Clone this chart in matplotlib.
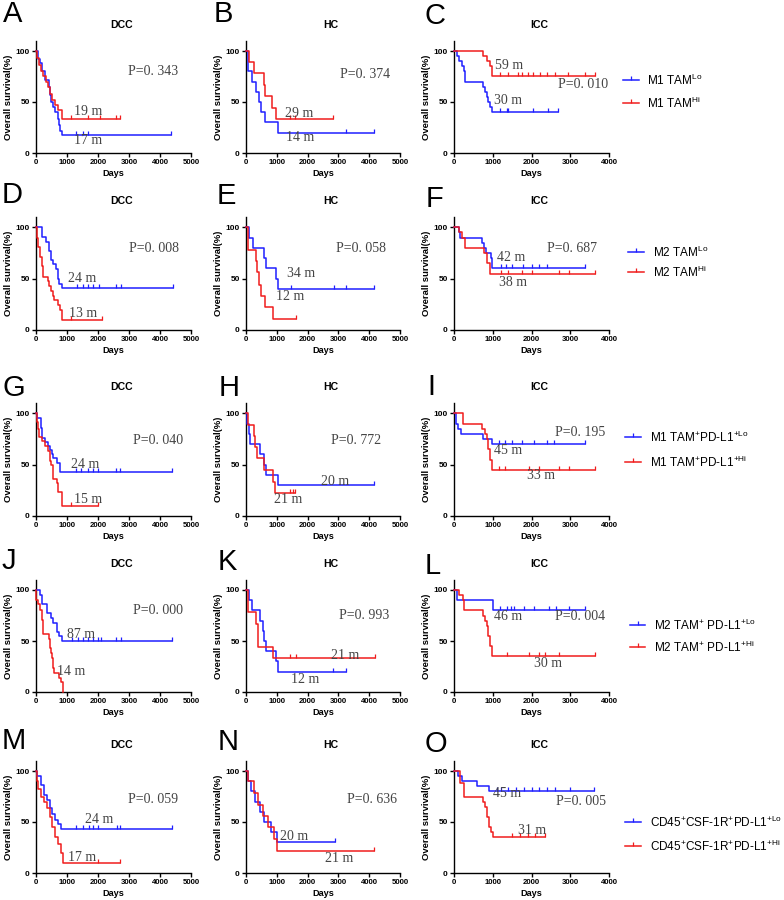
import numpy as np
import matplotlib
matplotlib.use('Agg')
import matplotlib.pyplot as plt
from matplotlib.lines import Line2D

plt.rcParams['font.family'] = ['Liberation Sans', 'DejaVu Sans']
plt.rcParams['mathtext.fontset'] = 'custom'
plt.rcParams['mathtext.rm'] = 'Liberation Sans'

# ---------------- data (days, survival %) ----------------
# Row 1: M1 TAM
A_lo_t = [50, 120, 190, 300, 410, 460, 480, 550, 620, 700, 730, 780, 840]
A_lo_s = [92, 88, 80, 72, 65, 57, 50, 45, 40, 33, 27, 22, 18]
A_lo_c = [1300, 1520, 1670, 4370]
A_hi_t = [40, 110, 170, 240, 320, 400, 450, 520, 600, 700, 850]
A_hi_s = [93, 86, 80, 75, 70, 65, 58, 52, 47, 42, 33]
A_hi_c = [1140, 1670, 2050, 2580, 2720]

B_lo_t = [50, 200, 310, 410, 480, 620, 1050]
B_lo_s = [80, 70, 60, 50, 40, 30, 20]
B_lo_c = [3250, 4150]
B_hi_t = [90, 270, 580, 610, 850, 960]
B_hi_s = [89, 78, 67, 56, 44, 33]
B_hi_c = [1430, 1590, 2840]

C_lo_t = [70, 140, 200, 260, 280, 760, 800, 850, 890, 940, 980]
C_lo_s = [95, 90, 85, 80, 70, 65, 60, 55, 50, 45, 40]
C_lo_c = [1190, 1360, 1400, 2050, 2430, 2690]
C_hi_t = [760, 850, 930, 990]
C_hi_s = [95, 90, 85, 75]
C_hi_c = [1190, 1400, 1660, 1750, 1920, 2050, 2220, 2390, 2610, 2950, 3380, 3640]

# Row 2: M2 TAM
D_lo_t = [190, 320, 430, 480, 540, 645, 700, 750, 840]
D_lo_s = [91, 86, 77, 68, 64, 59, 50, 45, 41]
D_lo_c = [1310, 1500, 1670, 1830, 2040, 2580, 2740, 4410]
D_hi_t = [20, 75, 130, 180, 215, 375, 430, 480, 540, 590, 700, 775, 840]
D_hi_s = [90, 81, 71, 62, 52, 48, 43, 38, 33, 29, 24, 19, 10]
D_hi_c = [1130, 2120]

E_lo_t = [110, 215, 575, 640, 960, 1040]
E_lo_s = [90, 80, 70, 60, 50, 40]
E_lo_c = [1455, 2860, 3235, 4155]
E_hi_t = [50, 80, 325, 370, 430, 480, 610, 880]
E_hi_s = [89, 78, 67, 56, 44, 33, 22, 11]
E_hi_c = [1630]

F_lo_t = [130, 155, 730, 770, 815, 960, 975, 990]
F_lo_s = [95, 90, 85, 80, 75, 70, 65, 60]
F_lo_c = [1200, 1350, 1505, 1770, 2020, 2190, 2410, 3370]
F_hi_t = [130, 215, 275, 770, 860, 930]
F_hi_s = [95, 90, 80, 75, 65, 55]
F_hi_c = [1205, 1385, 1765, 2020, 2710, 2970, 3640]

# Row 3: M1 TAM+PD-L1+
G_lo_t = [20, 160, 200, 300, 400, 450, 500, 560, 665, 770]
G_lo_s = [95, 86, 76, 72, 68, 64, 60, 56, 52, 43]
G_lo_c = [1306, 1467, 1681, 1842, 2002, 2591, 2698, 4380]
G_hi_t = [20, 75, 105, 180, 290, 400, 450, 480, 535, 560, 665, 720, 825]
G_hi_s = [92, 85, 77, 73, 68, 63, 54, 50, 45, 36, 32, 23, 10]
G_hi_c = [1145, 2000]

H_lo_t = [30, 100, 130, 465, 590, 640, 1050]
H_lo_s = [90, 80, 70, 60, 50, 40, 30]
H_lo_c = [4170]
H_hi_t = [50, 270, 300, 345, 590, 880, 935]
H_hi_s = [89, 78, 67, 56, 45, 33, 22]
H_hi_c = [1430, 1510, 1590]

I_lo_t = [40, 100, 170, 750, 970]
I_lo_s = [90, 85, 80, 75, 70]
I_lo_c = [1150, 1320, 1500, 1760, 2060, 2410, 2580, 3390]
I_hi_t = [235, 710, 800, 840, 890, 930, 975]
I_hi_s = [90, 85, 80, 75, 65, 55, 45]
I_hi_c = [1150, 1320, 1930, 2190, 2715, 2960, 3650]

# Row 4: M2 TAM+ PD-L1+
J_lo_t = [130, 180, 340, 480, 560, 665, 740, 825]
J_lo_s = [95, 86, 77, 73, 68, 59, 55, 50]
J_lo_c = [1167, 1360, 1520, 1680, 1842, 2002, 2088, 2591, 2730, 4380]
J_hi_t = [10, 75, 130, 180, 215, 420, 450, 480, 500, 535, 570, 740, 800, 855]
J_hi_s = [90, 86, 80, 71, 57, 52, 43, 38, 33, 24, 19, 14, 10, 0]
J_hi_c = []

K_lo_t = [110, 185, 465, 540, 600, 640, 960, 1040]
K_lo_s = [90, 80, 70, 60, 50, 40, 30, 20]
K_lo_c = [2837, 3235]
K_hi_t = [50, 80, 325, 380, 880]
K_hi_s = [89, 78, 67, 44, 33]
K_hi_c = [1440, 1625, 4190]

L_lo_t = [90, 1015]
L_lo_s = [90, 80]
L_lo_c = [1195, 1370, 1460, 1550, 1810, 2065, 2450, 2620, 2970, 3380]
L_hi_t = [130, 220, 265, 750, 800, 840, 885, 930, 990]
L_hi_s = [95, 90, 80, 75, 70, 65, 55, 45, 35]
L_hi_c = [1370, 1935, 2194, 2350, 2710, 3640]

# Row 5: CD45+CSF-1R+PD-L1+
M_lo_t = [30, 150, 250, 350, 450, 520, 600, 700, 800]
M_lo_s = [95, 86, 76, 72, 64, 58, 52, 48, 43]
M_lo_c = [1300, 1500, 1700, 1850, 2000, 2600, 2700, 4400]
M_hi_t = [20, 80, 150, 250, 350, 450, 520, 600, 700, 800, 870]
M_hi_s = [90, 82, 75, 70, 64, 55, 45, 35, 28, 20, 10]
M_hi_c = [2000, 2700]

N_lo_t = [50, 150, 300, 450, 600, 800, 1000]
N_lo_s = [90, 80, 70, 60, 50, 40, 30]
N_lo_c = [2900]
N_hi_t = [80, 250, 400, 550, 700, 900, 1000]
N_hi_s = [90, 78, 67, 56, 45, 33, 22]
N_hi_c = [4150]

O_lo_t = [100, 200, 600, 900]
O_lo_s = [95, 90, 85, 80]
O_lo_c = [1100, 1200, 1400, 1600, 1800, 2000, 2200, 2400, 2600, 3000, 3600]
O_hi_t = [150, 250, 750, 800, 850, 900, 950, 1000]
O_hi_s = [88, 75, 70, 65, 55, 45, 40, 35]
O_hi_c = [1500, 1700, 1900, 2100, 2350]

panel_letters = list("ABCDEFGHIJKLMNO")
cohorts = ["DCC", "HC", "ICC"]
medians = {
    'A': ["19 m", "17 m"], 'B': ["29 m", "14 m"], 'C': ["59 m", "30 m"],
    'D': ["24 m", "13 m"], 'E': ["34 m", "12 m"], 'F': ["42 m", "38 m"],
    'G': ["24 m", "15 m"], 'H': ["20 m", "21 m"], 'I': ["45 m", "33 m"],
    'J': ["87 m", "14 m"], 'K': ["21 m", "12 m"], 'L': ["46 m", "30 m"],
    'M': ["24 m", "17 m"], 'N': ["20 m", "21 m"], 'O': ["45 m", "31 m"],
}
pvalues = {
    'A': "P=0. 343", 'B': "P=0. 374", 'C': "P=0. 010",
    'D': "P=0. 008", 'E': "P=0. 058", 'F': "P=0. 687",
    'G': "P=0. 040", 'H': "P=0. 772", 'I': "P=0. 195",
    'J': "P=0. 000", 'K': "P=0. 993", 'L': "P=0. 004",
    'M': "P=0. 059", 'N': "P=0. 636", 'O': "P=0. 005",
}
legend_labels = [
    [r"M1 TAM$^{\mathregular{Lo}}$", r"M1 TAM$^{\mathregular{Hi}}$"],
    [r"M2 TAM$^{\mathregular{Lo}}$", r"M2 TAM$^{\mathregular{Hi}}$"],
    [r"M1 TAM$^{\mathregular{+}}$PD-L1$^{\mathregular{+Lo}}$", r"M1 TAM$^{\mathregular{+}}$PD-L1$^{\mathregular{+Hi}}$"],
    [r"M2 TAM$^{\mathregular{+}}$ PD-L1$^{\mathregular{+Lo}}$", r"M2 TAM$^{\mathregular{+}}$ PD-L1$^{\mathregular{+Hi}}$"],
    [r"CD45$^{\mathregular{+}}$CSF-1R$^{\mathregular{+}}$PD-L1$^{\mathregular{+Lo}}$", r"CD45$^{\mathregular{+}}$CSF-1R$^{\mathregular{+}}$PD-L1$^{\mathregular{+Hi}}$"],
]

# ---------------- layout (pixels) ----------------
W, H = 784, 900
col_left = [36, 246, 454]
col_width = [155, 154, 155]
col_xmax = [5000, 5000, 4000]
row_y0 = [153, 330, 516, 692, 873]
row_y100 = [51, 227.3, 413.3, 590, 771]
# text positions in data coords: (hi-label), (lo-label) etc.
txt_pos = {
    'A': [(1240, 41, 'hi'), (1240, 12, 'lo'), (2960, 80)],
    'B': [(1266, 39, 'hi'), (1300, 15, 'lo'), (3050, 77)],
    'C': [(1060, 86, 'hi'), (1030, 51, 'lo'), (2690, 67)],
    'D': [(1020, 50, 'lo'), (1075, 16, 'hi'), (3010, 79)],
    'E': [(1330, 55, 'lo'), (975, 33, 'hi'), (2920, 79)],
    'F': [(1120, 71, 'lo'), (1150, 46, 'hi'), (2410, 79)],
    'G': [(1145, 50, 'lo'), (1230, 16, 'hi'), (3127, 74)],
    'H': [(2420, 34, 'lo'), (910, 16, 'hi'), (2760, 74)],
    'I': [(1020, 64, 'lo'), (1880, 39, 'hi'), (2610, 81)],
    'J': [(985, 56, 'lo'), (664, 20, 'hi'), (3127, 80)],
    'K': [(2760, 36, 'hi'), (1460, 12, 'lo'), (3030, 75)],
    'L': [(1030, 74, 'lo'), (2065, 28, 'hi'), (2600, 74)],
    'M': [(1580, 52, 'lo'), (1030, 15, 'hi'), (2970, 72)],
    'N': [(1100, 36, 'lo'), (2560, 14, 'hi'), (3280, 72)],
    'O': [(1000, 78, 'lo'), (1650, 42, 'hi'), (2620, 70)],
}
letter_pos = {
    'A': (3, 5), 'B': (214, 5), 'C': (425, 7),
    'D': (2, 186), 'E': (217, 187), 'F': (426, 190),
    'G': (2, 379), 'H': (219, 379), 'I': (427, 378),
    'J': (2, 552), 'K': (218, 553), 'L': (425, 557),
    'M': (2, 732), 'N': (218, 733), 'O': (425, 735),
}
legend_y = [(80, 103), (252, 272), (437, 462), (625, 647), (822, 846)]
legend_x = [(623, 639, 647), (628, 644, 653), (625, 641, 650), (630, 645, 654), (625, 641, 650)]

BLUE = '#1f1fff'
RED = '#f01c1c'
SERIF = ['Liberation Serif', 'DejaVu Serif']
TXT = '#444444'

fig = plt.figure(figsize=(W / 100, H / 100), dpi=100)
g = globals()


def surv_at(t, s, x):
    idx = np.searchsorted(np.asarray(t), np.asarray(x, dtype=float), side='right')
    return np.r_[100, s][idx]


for r in range(5):
    for c in range(3):
        letter = panel_letters[r * 3 + c]
        y0, y100 = row_y0[r], row_y100[r]
        ppu = (y0 - y100) / 100.0
        ytop = y0 - 110 * ppu
        ax = fig.add_axes([col_left[c] / W, 1 - y0 / H, col_width[c] / W, (y0 - ytop) / H])
        ax.set_xlim(0, col_xmax[c])
        ax.set_ylim(0, 110)
        for grp, col in (('lo', BLUE), ('hi', RED)):
            t = g[f'{letter}_{grp}_t']
            s = g[f'{letter}_{grp}_s']
            cz = g[f'{letter}_{grp}_c']
            end = max(cz) if cz else t[-1]
            xs = np.r_[0, t, end]
            ys = np.r_[100, s, s[-1]]
            ax.step(xs, ys, where='post', color=col, lw=1.1, clip_on=False, zorder=3)
            if cz:
                ax.plot(cz, surv_at(t, s, cz), ls='none', marker=2, ms=3, mew=0.9,
                        color=col, clip_on=False, zorder=3)
        for sp in ('top', 'right'):
            ax.spines[sp].set_visible(False)
        for sp in ('left', 'bottom'):
            ax.spines[sp].set_linewidth(1.0)
        ax.set_yticks([0, 50, 100])
        ax.set_xticks(np.arange(0, col_xmax[c] + 1, 1000))
        ax.tick_params(axis='both', length=3, width=1.0, pad=1.5)
        ax.tick_params(axis='x', labelsize=5.6)
        ax.tick_params(axis='y', labelsize=6)
        for lab in ax.get_xticklabels() + ax.get_yticklabels():
            lab.set_fontweight('bold')
        ax.set_xlabel('Days', fontsize=6.6, fontweight='bold', labelpad=2)
        ax.set_ylabel('Overall survival(%)', fontsize=6.8, fontweight='bold', labelpad=2)
        ax.text(0.55, 1.0 + 16 / (y0 - ytop), cohorts[c], transform=ax.transAxes,
                ha='center', va='center', fontsize=7.6, fontweight='bold')
        tp = txt_pos[letter]
        meds = medians[letter]
        for k in range(2):
            ax.text(tp[k][0], tp[k][1], meds[k], ha='left', va='center',
                    family=SERIF, fontsize=10, color=TXT, zorder=4)
        ax.text(tp[2][0], tp[2][1], pvalues[letter], ha='left', va='center',
                family=SERIF, fontsize=10, color=TXT, zorder=4)
        lx, ly = letter_pos[letter]
        fig.text(lx / W, 1 - (ly - 5) / H, letter, ha='left', va='top', fontsize=21)

    # legend for the row
    x1, x2, xt = legend_x[r]
    for k, col in enumerate((BLUE, RED)):
        yy = 1 - legend_y[r][k] / H
        fig.add_artist(Line2D([x1 / W, x2 / W], [yy, yy], color=col, lw=1.1,
                              transform=fig.transFigure))
        fig.add_artist(Line2D([(x1 + x2) / 2 / W], [yy], color=col, marker=2, ms=3,
                              mew=0.9, transform=fig.transFigure))
        fig.text(xt / W, yy, legend_labels[r][k], ha='left', va='center', fontsize=8.5)

fig.savefig('out.png', dpi=100)
